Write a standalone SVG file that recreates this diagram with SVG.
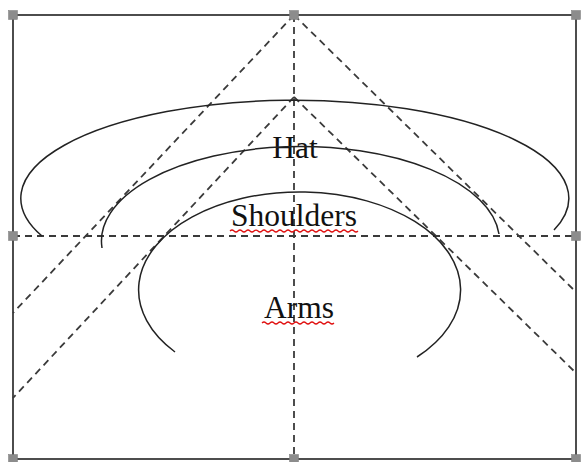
<svg xmlns="http://www.w3.org/2000/svg" width="582" height="462" viewBox="0 0 582 462">
<style>
.frame{fill:none;stroke:#3a3a3a;stroke-width:1.8}
.handle{fill:#8c8c8c;stroke:#7a7a7a;stroke-width:0.5}
.guide{fill:none;stroke:#3a3a3a;stroke-width:1.8;stroke-dasharray:7 5}
.arc{fill:none;stroke:#222;stroke-width:1.5}
.lbl{font-family:"Liberation Serif","Times New Roman",serif;font-size:31.5px;fill:#111;text-anchor:middle}
.squig{fill:none;stroke:#e01010;stroke-width:1.2}
</style>
<rect width="582" height="462" fill="#fff"/>
<g id="frame">
<rect class="frame" x="13" y="15" width="563" height="444"/>
</g>
<g id="connectors">
<line class="guide" x1="294" y1="15" x2="294" y2="459"/>
<line class="guide" x1="13" y1="236" x2="576" y2="236"/>
<line class="guide" x1="294" y1="15" x2="13" y2="313"/>
<line class="guide" x1="294" y1="15" x2="576" y2="292"/>
<line class="guide" x1="294" y1="97" x2="13" y2="398"/>
<line class="guide" x1="294" y1="97" x2="576" y2="373"/>
</g>
<g id="hat">
<path class="arc" d="M 42 236 A 274 98 0 1 1 554 230"/>
<text class="lbl" x="295" y="158">Hat</text>
</g>
<g id="shoulders">
<path class="arc" d="M 102 248 A 198 94 0 1 1 499 234"/>
<text class="lbl" x="294" y="226">Shoulders</text>
<path class="squig" d="M230 231 q2 -2 4 0 t4 0 t4 0 t4 0 t4 0 t4 0 t4 0 t4 0 t4 0 t4 0 t4 0 t4 0 t4 0 t4 0 t4 0 t4 0 t4 0 t4 0 t4 0 t4 0 t4 0 t4 0 t4 0 t4 0 t4 0 t4 0 t4 0 t4 0 t4 0 t4 0 t4 0 t4 0"/>
</g>
<g id="arms">
<path class="arc" d="M 175 352 A 161 98 0 1 1 417 357"/>
<text class="lbl" x="299" y="318">Arms</text>
<path class="squig" d="M262 323 q2 -2 4 0 t4 0 t4 0 t4 0 t4 0 t4 0 t4 0 t4 0 t4 0 t4 0 t4 0 t4 0 t4 0 t4 0 t4 0 t4 0 t4 0 t4 0"/>
</g>
<g id="handles">
<rect class="handle" x="8.5" y="10.5" width="9" height="9"/>
<rect class="handle" x="289.5" y="10.5" width="9" height="9"/>
<rect class="handle" x="571.5" y="10.5" width="9" height="9"/>
<rect class="handle" x="8.5" y="231.5" width="9" height="9"/>
<rect class="handle" x="571.5" y="231.5" width="9" height="9"/>
<rect class="handle" x="8.5" y="454.5" width="9" height="9"/>
<rect class="handle" x="289.5" y="454.5" width="9" height="9"/>
<rect class="handle" x="571.5" y="454.5" width="9" height="9"/>
</g>
</svg>
